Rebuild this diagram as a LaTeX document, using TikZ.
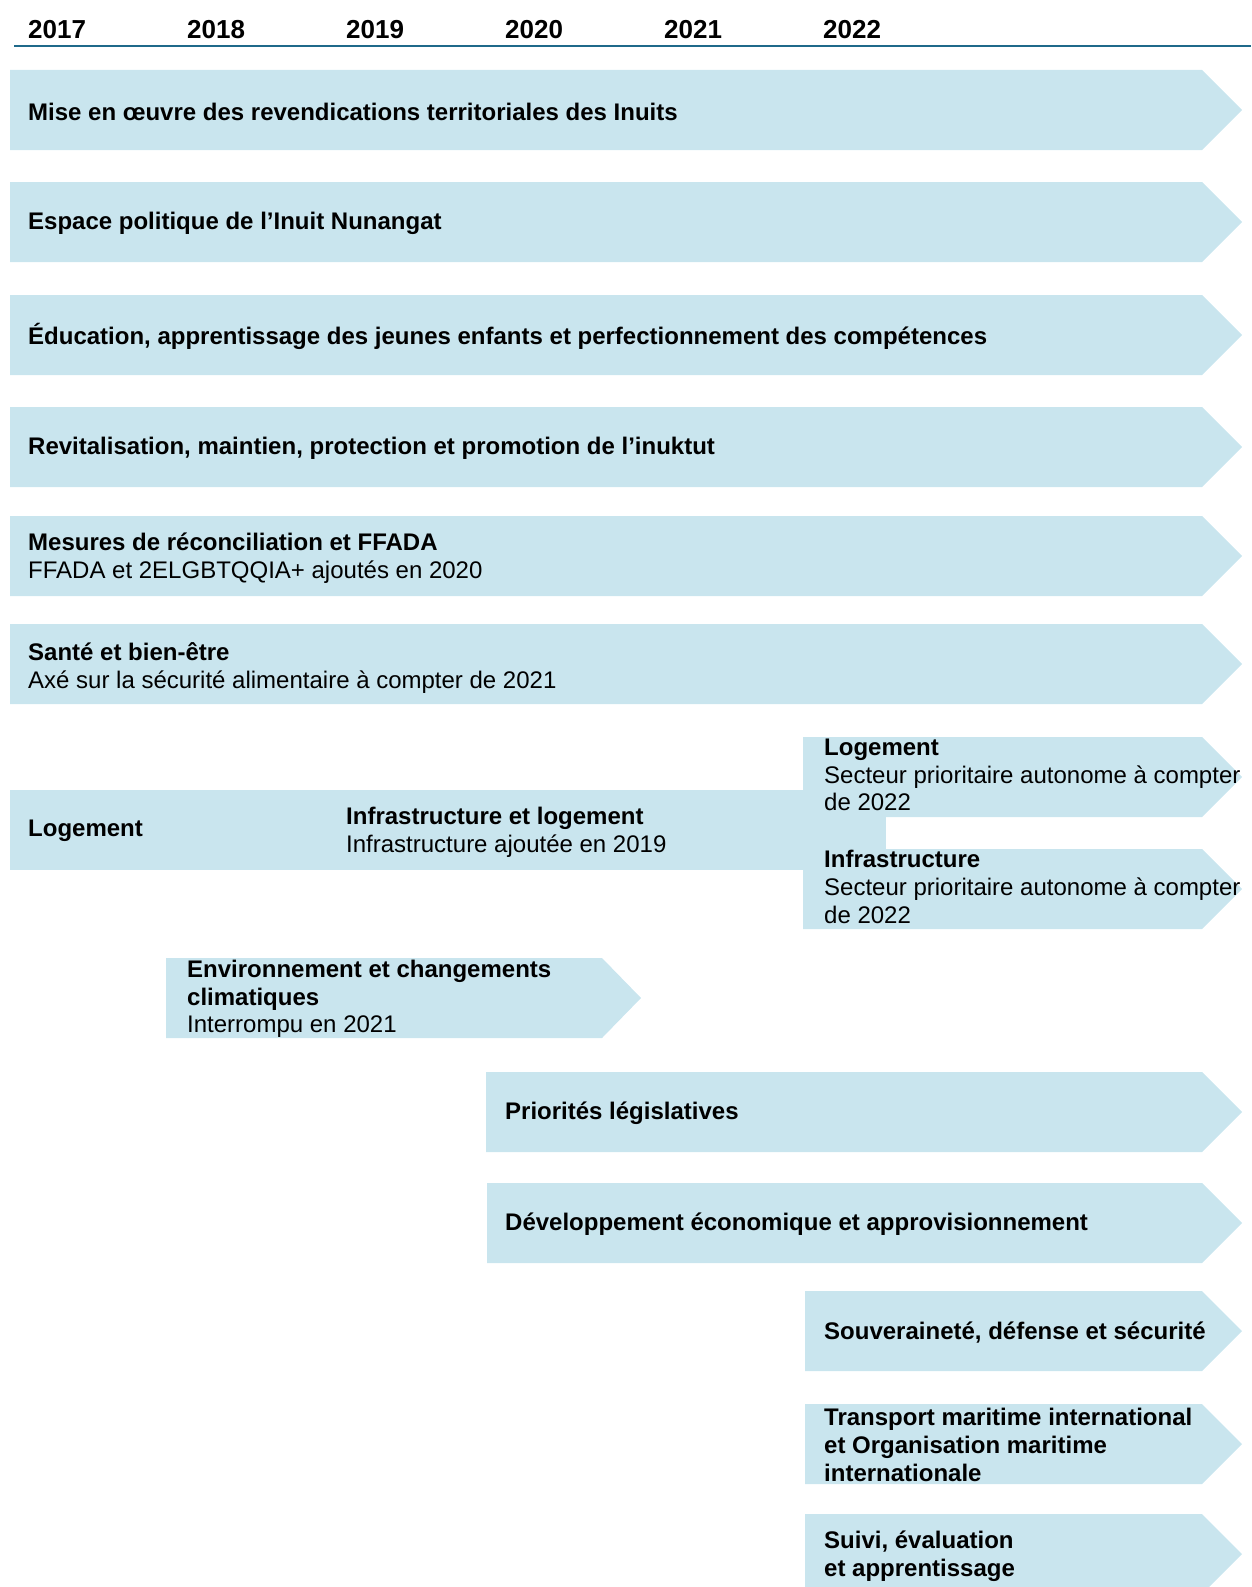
\documentclass[tikz,border=0pt]{standalone}
\usepackage{fontspec}
\setmainfont{Liberation Sans}
\definecolor{barfill}{RGB}{201,229,238}
\definecolor{axisline}{RGB}{31,105,138}
\begin{document}
\begin{tikzpicture}[x=1pt,y=-1pt,
  yr/.style={anchor=base west, inner sep=0pt, font=\fontsize{26}{30}\selectfont\bfseries},
  lbl/.style={anchor=west, align=left, inner sep=0pt, font=\fontsize{24}{27.6}\selectfont},
  barbody/.style={fill=barfill}]
\useasboundingbox (0,0) rectangle (1251,1587);
% header
\foreach \yr/\xx in {2017/28,2018/187,2019/346,2020/505,2021/664,2022/823}
  \node[yr] (y\yr) at (\xx,38.5) {\yr};
\coordinate (axL) at (14,46);
\coordinate (axR) at (1251,46);
\draw[axisline, line width=2.2pt] (axL) -- (axR);
% arrow bars: left, top, bottom, body end, tip
\newcommand\arrbar[5]{\fill[barbody] (#1,#2) -- (#4,#2) -- (#5,{(#2+#3)/2}) -- (#4,#3) -- (#1,#3) -- cycle;}
\arrbar{10}{70}{150}{1202}{1242}
\arrbar{10}{182}{262}{1202}{1242}
\arrbar{10}{295}{375}{1202}{1242}
\arrbar{10}{407}{487}{1202}{1242}
\arrbar{10}{516}{596}{1202}{1242}
\arrbar{10}{624}{704}{1202}{1242}
\fill[barbody] (10,790) rectangle (886,870);
\arrbar{803}{737}{817}{1202}{1242}
\arrbar{803}{849}{929}{1202}{1242}
\arrbar{166}{958}{1038}{602}{641}
\arrbar{486}{1072}{1152}{1202}{1242}
\arrbar{487}{1183}{1263}{1202}{1242}
\arrbar{805}{1291}{1371}{1202}{1242}
\arrbar{805}{1404}{1484}{1202}{1242}
\arrbar{805}{1514}{1594}{1202}{1242}
% labels
\node[lbl] (t1) at (28,111.5) {\bfseries Mise en œuvre des revendications territoriales des Inuits};
\node[lbl] (t2) at (28,223.5) {\bfseries Espace politique de l’Inuit Nunangat};
\node[lbl] (t3) at (28,336) {\bfseries Éducation, apprentissage des jeunes enfants et perfectionnement des compétences};
\node[lbl] (t4) at (28,448) {\bfseries Revitalisation, maintien, protection et promotion de l’inuktut};
\node[lbl] (t5) at (28,558) {\textbf{Mesures de réconciliation et FFADA}\\FFADA et 2ELGBTQQIA+ ajoutés en 2020};
\node[lbl] (t6) at (28,668) {\textbf{Santé et bien-être}\\Axé sur la sécurité alimentaire à compter de 2021};
\node[lbl] (t7) at (28,831) {\bfseries Logement};
\node[lbl] (t7b) at (346,832) {\textbf{Infrastructure et logement}\\Infrastructure ajoutée en 2019};
\node[lbl] (t7c) at (824,775) {\textbf{Logement}\\Secteur prioritaire autonome à compter\\de 2022};
\node[lbl] (t7d) at (824,887) {\textbf{Infrastructure}\\Secteur prioritaire autonome à compter\\de 2022};
\node[lbl] (t8) at (187,999) {\textbf{Environnement et changements}\\\textbf{climatiques}\\Interrompu en 2021};
\node[lbl] (t9) at (505,1113) {\bfseries Priorités législatives};
\node[lbl] (t10) at (505,1224) {\bfseries Développement économique et approvisionnement};
\node[lbl] (t11) at (824,1333) {\bfseries Souveraineté, défense et sécurité};
\node[lbl] (t12) at (824,1445) {\textbf{Transport maritime international}\\\textbf{et Organisation maritime}\\\textbf{internationale}};
\node[lbl] (t13) at (824,1556) {\textbf{Suivi, évaluation}\\\textbf{et apprentissage}};
\end{tikzpicture}
\end{document}
